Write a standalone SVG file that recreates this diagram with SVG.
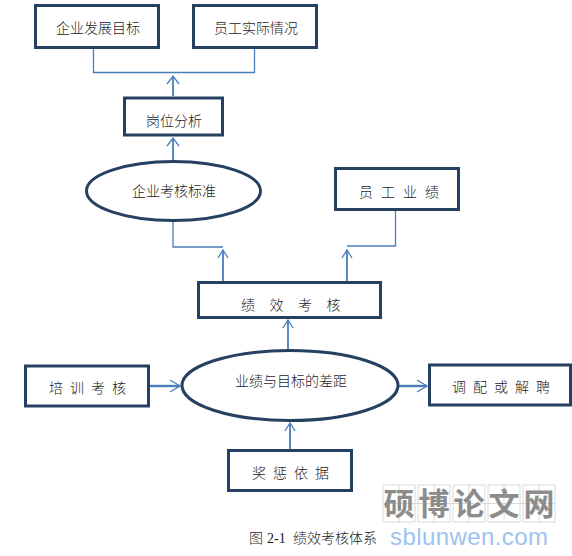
<svg xmlns="http://www.w3.org/2000/svg" width="572" height="556" viewBox="0 0 572 556">
<style>
.n{fill:#fff;stroke:#254061;stroke-width:3}
.t{font-family:"Noto Sans CJK SC","Liberation Serif",serif;font-size:14px;font-weight:300;fill:#1a1a1a}
.c{fill:none;stroke:#4a7ebb;stroke-width:1.3}
.a{fill:none;stroke:#4a7ebb;stroke-width:1.8}
.h{fill:none;stroke:#4a7ebb;stroke-width:1.3}
.g{fill:none;stroke:#d0d0d0;stroke-width:.8}
.w{font-family:"Noto Sans CJK SC","Liberation Sans",sans-serif;font-size:31px;font-weight:700;fill:#8c8c8c}
</style>
<rect width="572" height="556" fill="#fff"/>
<g id="connectors">
<path class="c" d="M93.5 48V72.5H254.5V48"/>
<path class="a" d="M173 96V76"/><path class="h" d="M167 84L173 76L179 84"/>
<path class="a" d="M173 161V138"/><path class="h" d="M167 146L173 138L179 146"/>
<path class="c" d="M173 220V247H223"/>
<path class="a" d="M223 282V250"/><path class="h" d="M218 258L223 250L228 258"/>
<path class="c" d="M395.500 209V246H347"/>
<path class="a" d="M347 282V250"/><path class="h" d="M342 258L347 250L352 258"/>
<path class="a" d="M288 351V320"/><path class="h" d="M283 328L288 320L293 328"/>
<path class="a" d="M149 386H180" style="stroke-width:2.400"/><path class="h" d="M170 380L180 386L170 392"/>
<path class="a" d="M399 386H427" style="stroke-width:2.400"/><path class="h" d="M417 380L427 386L417 392"/>
<path class="a" d="M290 450V423"/><path class="h" d="M285 431L290 423L295 431"/>
</g>
<g id="n1"><rect class="n" x="35.500" y="5.500" width="123" height="42"/><text class="t" x="56" y="33">企业发展目标</text></g>
<g id="n2"><rect class="n" x="193.500" y="5.500" width="123" height="42"/><text class="t" x="214" y="33">员工实际情况</text></g>
<g id="n3"><rect class="n" x="124.500" y="98" width="98" height="37"/><text class="t" x="146" y="126">岗位分析</text></g>
<g id="n4"><ellipse class="n" cx="173.500" cy="191" rx="87" ry="29.500"/><text class="t" x="132" y="196">企业考核标准</text></g>
<g id="n5"><rect class="n" x="335.500" y="168.500" width="123" height="41"/><text class="t" x="359" y="197" letter-spacing="8">员工业绩</text></g>
<g id="n6"><rect class="n" x="198.500" y="282.500" width="182" height="35"/><text class="t" x="241" y="310" letter-spacing="14.500">绩效考核</text></g>
<g id="n7"><ellipse class="n" cx="290" cy="385.500" rx="108" ry="35"/><text class="t" x="235" y="386">业绩与目标的差距</text></g>
<g id="n8"><rect class="n" x="25.500" y="366" width="123" height="40"/><text class="t" x="49" y="393" letter-spacing="7">培训考核</text></g>
<g id="n9"><rect class="n" x="429.500" y="365" width="141" height="40"/><text class="t" x="452" y="392" letter-spacing="7">调配或解聘</text></g>
<g id="n10"><rect class="n" x="228.500" y="450.500" width="123" height="40"/><text class="t" x="252" y="478" letter-spacing="7">奖惩依据</text></g>
<g id="caption"><text class="t" x="249" y="543">图</text><text x="267" y="543" font-family="Liberation Serif,serif" font-size="14" fill="#1a1a1a">2-1</text><text class="t" x="293" y="543">绩效考核体系</text></g>
<g id="watermark">
<path class="g" d="M383 485h32v37h-32zM418 485h32v37h-32zM453 485h32v37h-32zM488 485h32v37h-32zM523 485h32v37h-32zM383 503.500h172M399 485v37M434 485v37M469 485v37M504 485v37M539 485v37"/>
<text class="w" x="383.500" y="515">硕</text><text class="w" x="418.500" y="515">博</text><text class="w" x="453.500" y="515">论</text><text class="w" x="488.500" y="515">文</text><text class="w" x="523.500" y="515">网</text>
<text x="390" y="545" font-family="Liberation Sans,sans-serif" font-size="24" fill="#9cc3f0" textLength="158">sblunwen.com</text>
</g>
</svg>
